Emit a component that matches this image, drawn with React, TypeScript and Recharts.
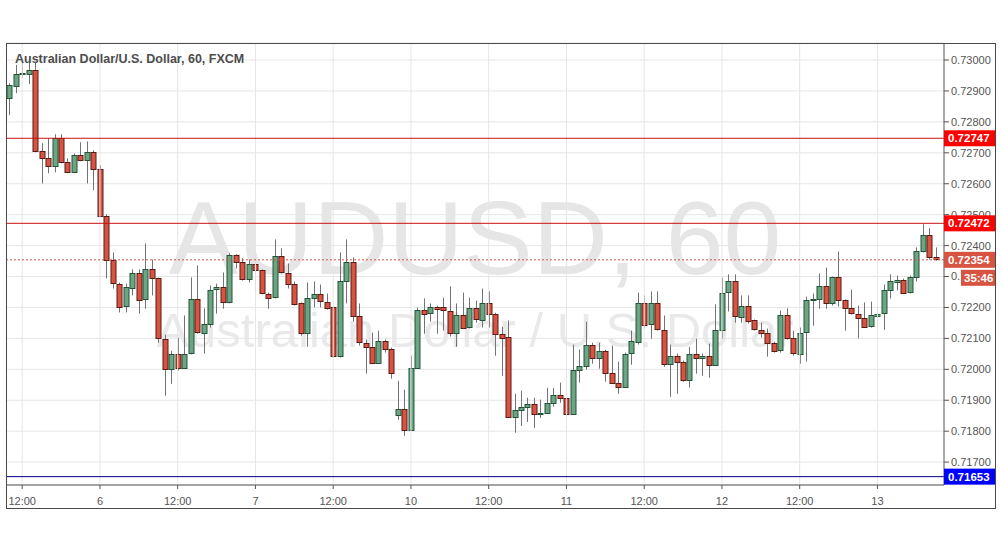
import { ComposedChart, Bar, XAxis, YAxis, CartesianGrid, ReferenceLine } from 'recharts'

const FONT = '"Liberation Sans", Arial, sans-serif'

// hourly candles, AUD/USD (FXCM), 5th 10:00 -> 13th
const opens = [
  0.72877, 0.72916, 0.72955, 0.72955, 0.72968, 0.72705, 0.72682, 0.72657, 0.72747, 0.72669,
  0.72637, 0.72692, 0.72676, 0.72702, 0.72647, 0.72495, 0.72352, 0.72277, 0.72203, 0.72265,
  0.72313, 0.72226, 0.72323, 0.72294, 0.72099, 0.72002, 0.72051, 0.72005, 0.72051, 0.72226,
  0.72119, 0.72148, 0.72258, 0.72265, 0.72216, 0.72368, 0.72346, 0.7229, 0.72339, 0.7232,
  0.72245, 0.72232, 0.72365, 0.72313, 0.72277, 0.72213, 0.72115, 0.72229, 0.72242, 0.72219,
  0.722, 0.72041, 0.72284, 0.72346, 0.72171, 0.72086, 0.72073, 0.72021, 0.72093, 0.72067,
  0.71853, 0.71872, 0.71804, 0.72005, 0.72193, 0.7218, 0.72203, 0.722, 0.7219, 0.72119,
  0.72177, 0.72135, 0.72197, 0.72161, 0.72216, 0.7218, 0.72115, 0.72106, 0.71847, 0.71869,
  0.71879, 0.71889, 0.71856, 0.7186, 0.71892, 0.71918, 0.71908, 0.71856, 0.71999, 0.72012,
  0.7208, 0.72038, 0.7206, 0.71989, 0.71957, 0.71944, 0.72051, 0.7209, 0.72216, 0.72145,
  0.72213, 0.72128, 0.72018, 0.72044, 0.72025, 0.71966, 0.72051, 0.72038, 0.72044, 0.72015,
  0.72128, 0.72248, 0.72284, 0.72171, 0.72206, 0.72158, 0.72128, 0.72119, 0.72086, 0.7206,
  0.72174, 0.721, 0.72051, 0.72119, 0.72223, 0.72226, 0.72268, 0.72213, 0.72297, 0.72223,
  0.72197, 0.7218, 0.72167, 0.72138, 0.72174, 0.7218, 0.72255, 0.72284, 0.7229, 0.72248,
  0.72297, 0.72381, 0.72433, 0.72362,
]
const highs = [
  0.72925, 0.72984, 0.72994, 0.72994, 0.72994, 0.72731, 0.72747, 0.7276, 0.7276, 0.72682,
  0.72698, 0.72734, 0.72737, 0.72708, 0.7266, 0.72501, 0.72378, 0.7228, 0.72277, 0.72323,
  0.72323, 0.72407, 0.72355, 0.72297, 0.72112, 0.7206, 0.72102, 0.72174, 0.72297, 0.72336,
  0.72197, 0.72271, 0.72277, 0.72313, 0.72375, 0.72372, 0.72359, 0.72355, 0.72372, 0.72323,
  0.72248, 0.7242, 0.72391, 0.72342, 0.72284, 0.72216, 0.72281, 0.72284, 0.72274, 0.72245,
  0.72203, 0.72378, 0.7242, 0.72362, 0.72213, 0.72096, 0.72119, 0.72125, 0.72096, 0.7207,
  0.71963, 0.71934, 0.72044, 0.722, 0.72229, 0.72213, 0.72206, 0.72232, 0.72268, 0.72213,
  0.72248, 0.72232, 0.72222, 0.72261, 0.72252, 0.72183, 0.72138, 0.72158, 0.71921, 0.71931,
  0.71908, 0.71908, 0.71902, 0.7194, 0.7194, 0.71957, 0.71911, 0.7208, 0.72064, 0.72154,
  0.72086, 0.72086, 0.72063, 0.72077, 0.72025, 0.72054, 0.72125, 0.72248, 0.72239, 0.72252,
  0.72252, 0.72174, 0.7208, 0.72051, 0.72028, 0.72073, 0.72099, 0.72051, 0.72083, 0.7221,
  0.72297, 0.72307, 0.72307, 0.72239, 0.72239, 0.72161, 0.72151, 0.72132, 0.72089, 0.7219,
  0.72197, 0.72125, 0.72135, 0.72235, 0.72245, 0.7231, 0.72329, 0.723, 0.72381, 0.72226,
  0.72258, 0.72206, 0.72216, 0.72219, 0.72206, 0.72274, 0.72307, 0.72303, 0.72293, 0.72303,
  0.72394, 0.72469, 0.72456, 0.72394,
]
const lows = [
  0.72822, 0.72893, 0.72942, 0.72922, 0.72702, 0.72601, 0.72634, 0.72637, 0.72666, 0.72634,
  0.72634, 0.72673, 0.72601, 0.72579, 0.72492, 0.72294, 0.72261, 0.72184, 0.72184, 0.72239,
  0.7218, 0.72196, 0.72239, 0.72086, 0.71915, 0.71953, 0.71996, 0.72002, 0.72048, 0.72115,
  0.72051, 0.72135, 0.7218, 0.72196, 0.72213, 0.72326, 0.72287, 0.72281, 0.72245, 0.72242,
  0.72196, 0.72229, 0.7231, 0.72261, 0.72206, 0.72109, 0.72073, 0.722, 0.722, 0.72193,
  0.72038, 0.72038, 0.72213, 0.72154, 0.72077, 0.71986, 0.72018, 0.72018, 0.72054, 0.7197,
  0.71837, 0.71785, 0.71801, 0.72002, 0.72115, 0.72154, 0.72115, 0.72125, 0.72106, 0.72073,
  0.72132, 0.72132, 0.72151, 0.72135, 0.72135, 0.72044, 0.71979, 0.71843, 0.71795, 0.71817,
  0.7183, 0.71811, 0.71843, 0.71857, 0.71879, 0.71892, 0.71847, 0.71853, 0.71957, 0.71999,
  0.72018, 0.72002, 0.7196, 0.71954, 0.71921, 0.71941, 0.72015, 0.7208, 0.72132, 0.72099,
  0.72125, 0.72008, 0.71911, 0.71921, 0.7196, 0.71941, 0.71986, 0.71979, 0.71973, 0.72012,
  0.72099, 0.72187, 0.72151, 0.72151, 0.72148, 0.72125, 0.72102, 0.72041, 0.72054, 0.72054,
  0.72096, 0.72044, 0.72018, 0.72025, 0.72141, 0.72196, 0.72196, 0.72206, 0.72203, 0.72125,
  0.72177, 0.721, 0.72135, 0.72135, 0.72135, 0.72128, 0.72229, 0.72255, 0.72245, 0.72245,
  0.72284, 0.72378, 0.72355, 0.72351,
]
const closes = [
  0.72919, 0.72955, 0.72957, 0.72968, 0.72705, 0.72682, 0.72657, 0.72747, 0.72669, 0.72637,
  0.72692, 0.72676, 0.72702, 0.72647, 0.72495, 0.72352, 0.72277, 0.72203, 0.72265, 0.72313,
  0.72226, 0.72323, 0.72294, 0.72099, 0.72002, 0.72051, 0.72005, 0.72051, 0.72226, 0.72119,
  0.72148, 0.72258, 0.72265, 0.72216, 0.72368, 0.72346, 0.7229, 0.72339, 0.7232, 0.72245,
  0.72232, 0.72365, 0.72313, 0.72277, 0.72213, 0.72115, 0.72229, 0.72242, 0.72219, 0.722,
  0.72041, 0.72284, 0.72346, 0.72171, 0.72086, 0.72073, 0.72021, 0.72093, 0.72067, 0.71989,
  0.71872, 0.71804, 0.72005, 0.72193, 0.7218, 0.722, 0.72197, 0.7219, 0.72119, 0.72177,
  0.72135, 0.72197, 0.72161, 0.72216, 0.7218, 0.72115, 0.72102, 0.71847, 0.71869, 0.71879,
  0.71889, 0.71856, 0.7186, 0.71892, 0.71918, 0.71908, 0.71856, 0.71999, 0.72012, 0.7208,
  0.72038, 0.7206, 0.71989, 0.71957, 0.71944, 0.72051, 0.7209, 0.72216, 0.72145, 0.72213,
  0.72128, 0.72018, 0.72044, 0.72025, 0.71966, 0.72051, 0.72038, 0.72044, 0.72015, 0.72128,
  0.72248, 0.72284, 0.72171, 0.72206, 0.72158, 0.72128, 0.72119, 0.72086, 0.7206, 0.72174,
  0.721, 0.72051, 0.72119, 0.72223, 0.72226, 0.72268, 0.72213, 0.72297, 0.72223, 0.72197,
  0.7218, 0.72167, 0.72138, 0.72174, 0.7218, 0.72255, 0.72284, 0.7229, 0.72248, 0.72297,
  0.72381, 0.72433, 0.72362, 0.72354,
]

// candle index -> time label on the bottom axis
const tickIndexes = [2, 14, 26, 38, 50, 62, 74, 86, 98, 110, 122, 134]
const tickLabels = ['12:00', '6', '12:00', '7', '12:00', '10', '12:00', '11', '12:00', '12', '12:00', '13']
const priceTicks = [0.717, 0.718, 0.719, 0.72, 0.721, 0.722, 0.723, 0.724, 0.725, 0.726, 0.727, 0.728, 0.729, 0.73]

const resistanceLevels = [0.72747, 0.72472]
const supportLevel = 0.71653
const lastPrice = 0.72354
const countdown = '35:46'

const Y_DOMAIN = [0.71626, 0.73055]
const MARGIN = { top: 43, right: 6, bottom: 38, left: 6 }

const UP = '#6ba583'
const UP_BORDER = '#225437'
const DOWN = '#d75442'
const DOWN_BORDER = '#5b1a13'
const WICK = '#737375'

const data = opens.map((o, i) => ({
  key: String(i),
  o,
  h: highs[i],
  l: lows[i],
  c: closes[i],
  range: [lows[i], highs[i]],
}))

function Candle(props: any) {
  const { x, y, width, height, payload } = props
  if (!payload) return null
  const { o, h, l, c } = payload
  const cx = Math.round(x + width / 2) + 0.5
  const ppu = h > l ? height / (h - l) : 0
  const top = y + (h - Math.max(o, c)) * ppu
  const bot = y + (h - Math.min(o, c)) * ppu
  const up = c >= o
  const bh = Math.max(1, Math.round(bot - top))
  return (
    <g>
      <line x1={cx} x2={cx} y1={y} y2={y + height} stroke={WICK} strokeWidth={1} />
      <rect
        x={cx - 2.5}
        y={Math.round(top) + 0.5}
        width={5}
        height={bh}
        fill={up ? UP : DOWN}
        stroke={up ? UP_BORDER : DOWN_BORDER}
        strokeWidth={1}
      />
    </g>
  )
}

function TimeTick(props: any) {
  const { x, y, payload } = props
  const idx = tickIndexes.indexOf(Number(payload.value))
  if (idx < 0) return null
  return (
    <g>
      <line x1={x} x2={x} y1={485} y2={489} stroke="#555" />
      <text x={x} y={y + 12} textAnchor="middle" fontSize={11} fill="#555" fontFamily={FONT}>
        {tickLabels[idx]}
      </text>
    </g>
  )
}

function PriceTag(props: any) {
  const { viewBox, text, fill, extra } = props
  if (!viewBox) return null
  const x0 = viewBox.x + viewBox.width
  const y0 = viewBox.y
  return (
    <g>
      <rect x={x0} y={y0 - 8} width={51} height={16} fill={fill} />
      <text x={x0 + 4} y={y0 + 4} fontSize={11.5} fontWeight="bold" fill="#fff" fontFamily={FONT}>
        {text}
      </text>
      {extra && (
        <g>
          <rect x={x0 + 17} y={y0 + 10} width={34} height={16} fill={fill} />
          <text x={x0 + 20} y={y0 + 22} fontSize={11.5} fontWeight="bold" fill="#fff" fontFamily={FONT}>
            {extra}
          </text>
        </g>
      )}
    </g>
  )
}

export default function App() {
  return (
    <div style={{ position: 'absolute', left: 0, top: 0, width: 1002, height: 547, background: '#fff' }}>
      <svg width={1002} height={547} style={{ position: 'absolute', left: 0, top: 0 }}>
        <text x={475} y={274} textAnchor="middle" fontSize={104} fill="#e6e6e6" fontFamily={FONT}>
          AUDUSD, 60
        </text>
        <text x={475} y={347} textAnchor="middle" fontSize={49} fill="#e9e9e9" fontFamily={FONT}>
          Australian Dollar / U.S. Dollar
        </text>
      </svg>
      <div style={{ position: 'absolute', left: 0, top: 0 }}>
        <ComposedChart width={1002} height={547} data={data} margin={MARGIN}>
          <CartesianGrid stroke="#e6e6e6" vertical={false} />
          {tickIndexes.map((k) => (
            <ReferenceLine key={k} x={String(k)} stroke="#e6e6e6" />
          ))}
          <XAxis
            dataKey="key"
            interval={0}
            tick={<TimeTick />}
            tickLine={false}
            axisLine={{ stroke: '#555' }}
            height={24}
            padding={{ left: 0, right: 5 }}
          />
          <YAxis
            orientation="right"
            type="number"
            domain={Y_DOMAIN}
            allowDataOverflow
            ticks={priceTicks}
            tickFormatter={(v: number) => v.toFixed(5)}
            tick={{ fontSize: 11, fill: '#555', fontFamily: FONT }}
            tickSize={5}
            tickLine={{ stroke: '#555' }}
            axisLine={{ stroke: '#555' }}
            width={52}
          />
          <Bar dataKey="range" shape={<Candle />} isAnimationActive={false} />
          {resistanceLevels.map((lv) => (
            <ReferenceLine key={lv} y={lv} stroke="#cc1111" />
          ))}
          <ReferenceLine y={lastPrice} stroke={DOWN} strokeDasharray="2 2" />
          <ReferenceLine y={supportLevel} stroke="#000080" />
        </ComposedChart>
      </div>
      {/* price tags sit above the axis labels, same scale as the main chart */}
      <div style={{ position: 'absolute', left: 0, top: 0, pointerEvents: 'none' }}>
        <ComposedChart width={1002} height={547} data={data} margin={MARGIN}>
          <XAxis dataKey="key" tick={false} tickLine={false} axisLine={false} height={24} padding={{ left: 0, right: 5 }} />
          <YAxis
            orientation="right"
            type="number"
            domain={Y_DOMAIN}
            allowDataOverflow
            tick={false}
            tickLine={false}
            axisLine={false}
            width={52}
          />
          {resistanceLevels.map((lv) => (
            <ReferenceLine
              key={lv}
              y={lv}
              stroke="transparent"
              label={<PriceTag text={lv.toFixed(5)} fill="#ff0000" />}
            />
          ))}
          <ReferenceLine
            y={lastPrice}
            stroke="transparent"
            label={<PriceTag text={lastPrice.toFixed(5)} fill={DOWN} extra={countdown} />}
          />
          <ReferenceLine
            y={supportLevel}
            stroke="transparent"
            label={<PriceTag text={supportLevel.toFixed(5)} fill="#0000ff" />}
          />
        </ComposedChart>
      </div>
      <div
        style={{
          position: 'absolute',
          left: 6,
          top: 43,
          width: 990,
          height: 466,
          border: '1px solid #4a4a4a',
          boxSizing: 'border-box',
          pointerEvents: 'none',
        }}
      />
      <div
        style={{
          position: 'absolute',
          left: 15,
          top: 52,
          fontFamily: FONT,
          fontSize: 12.5,
          fontWeight: 'bold',
          color: '#4d4d4d',
          whiteSpace: 'nowrap',
        }}
      >
        Australian Dollar/U.S. Dollar, 60, FXCM
      </div>
    </div>
  )
}
